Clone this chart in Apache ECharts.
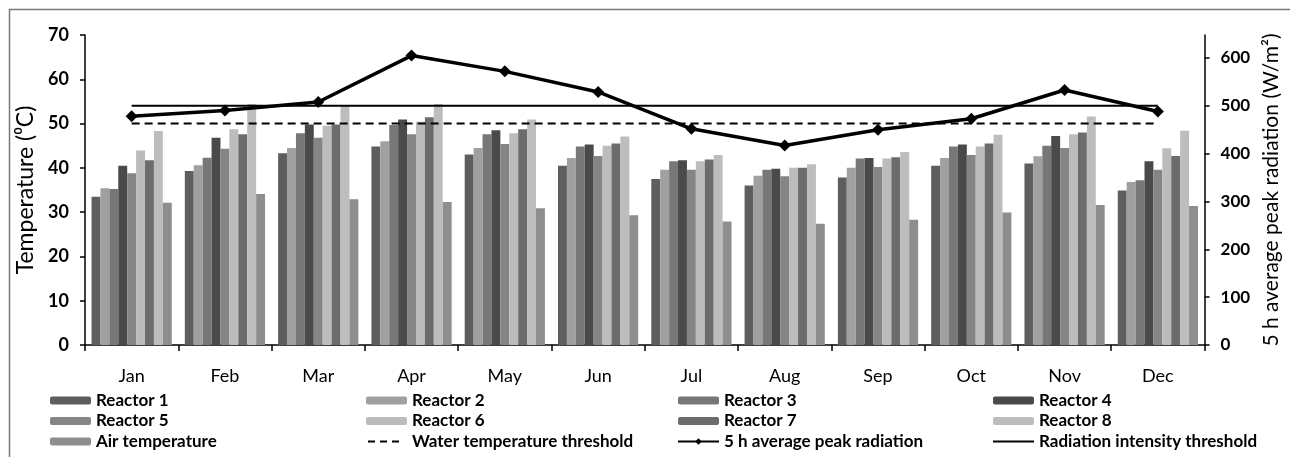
<!DOCTYPE html>
<html>
<head>
<meta charset="utf-8">
<script src="https://cdn.jsdelivr.net/npm/echarts@6/dist/echarts.min.js"></script>
<style>
  html, body { margin: 0; padding: 0; background: #fff; }
  #chart { width: 1290px; height: 457px; }
</style>
</head>
<body>
<div id="chart"></div>
<script>
var months = ['Jan', 'Feb', 'Mar', 'Apr', 'May', 'Jun', 'Jul', 'Aug', 'Sep', 'Oct', 'Nov', 'Dec'];

// temperatures (°C)
var reactor1 = [33.5, 39.3, 43.3, 44.8, 43.0, 40.5, 37.5, 36.0, 37.8, 40.5, 41.0, 34.9];
var reactor2 = [35.4, 40.6, 44.5, 46.0, 44.5, 42.2, 39.6, 38.2, 40.0, 42.2, 42.6, 36.8];
var reactor3 = [35.2, 42.3, 47.8, 49.7, 47.6, 44.8, 41.5, 39.6, 42.1, 44.8, 45.0, 37.2];
var reactor4 = [40.5, 46.8, 49.8, 50.9, 48.5, 45.3, 41.7, 39.8, 42.2, 45.3, 47.2, 41.5];
var reactor5 = [38.8, 44.3, 46.8, 47.6, 45.4, 42.7, 39.6, 38.1, 40.2, 42.9, 44.5, 39.6];
var reactor6 = [43.9, 48.7, 49.5, 50.4, 47.8, 45.0, 41.5, 40.0, 42.1, 44.8, 47.6, 44.4];
var reactor7 = [41.7, 47.6, 49.8, 51.4, 48.7, 45.5, 41.9, 40.0, 42.4, 45.5, 48.0, 42.7];
var reactor8 = [48.3, 54.4, 54.2, 54.4, 50.9, 47.1, 42.9, 40.8, 43.6, 47.5, 51.6, 48.4];
var airTemp  = [32.1, 34.1, 32.9, 32.3, 30.9, 29.3, 27.9, 27.4, 28.3, 29.9, 31.6, 31.4];

// right axis (W/m2)
var peakRadiation = [478, 490, 508, 605, 572, 529, 452, 417, 450, 473, 533, 488];
var waterThreshold = [50, 50, 50, 50, 50, 50, 50, 50, 50, 50, 50, 50];
var radiationThreshold = [500, 500, 500, 500, 500, 500, 500, 500, 500, 500, 500, 500];

var leftTicks = [0, 10, 20, 30, 40, 50, 60, 70];
var rightTicks = [0, 100, 200, 300, 400, 500, 600];

var barNames = ['Reactor 1', 'Reactor 2', 'Reactor 3', 'Reactor 4', 'Reactor 5',
                'Reactor 6', 'Reactor 7', 'Reactor 8', 'Air temperature'];
var barData = [reactor1, reactor2, reactor3, reactor4, reactor5, reactor6, reactor7, reactor8, airTemp];
var barColors = ['#5e5e5e', '#a0a0a0', '#777777', '#4a4a4a', '#858585',
                 '#bcbcbc', '#6c6c6c', '#bdbdbd', '#8e8e8e'];

var FONT = 'Lato';
// legend glyphs for the two threshold lines (box 41x8)
var SOLID_ICON = 'path://M0,0M41,8M0,3H41V5H0Z';
var DASH_ICON = 'path://M0,0M41,8M2,3H9V5H2ZM14,3H21V5H14ZM26,3H33V5H26Z';

var chartSeries = barNames.map(function (name, i) {
  return {
    name: name,
    type: 'bar',
    data: barData[i],
    itemStyle: { color: barColors[i] },
    barGap: '0%',
    barCategoryGap: '14%',
    z: 2
  };
});

chartSeries.push({
  name: 'Water temperature threshold',
  type: 'line',
  data: waterThreshold,
  yAxisIndex: 0,
  symbol: 'none',
  lineStyle: { color: '#000', width: 2, type: [8, 5] },
  itemStyle: { color: '#000' },
  z: 5
});
chartSeries.push({
  name: '5 h average peak radiation',
  type: 'line',
  data: peakRadiation,
  yAxisIndex: 1,
  symbol: 'diamond',
  symbolSize: 12,
  lineStyle: { color: '#000', width: 3.5 },
  itemStyle: { color: '#000' },
  z: 6
});
chartSeries.push({
  name: 'Radiation intensity threshold',
  type: 'line',
  data: radiationThreshold,
  yAxisIndex: 1,
  symbol: 'none',
  lineStyle: { color: '#000', width: 2 },
  itemStyle: { color: '#000' },
  z: 5
});

function legendColumn(left, names) {
  return {
    orient: 'vertical',
    left: left,
    top: 391,
    height: 70,
    padding: 0,
    itemWidth: 41,
    itemHeight: 8,
    itemGap: 1.5,
    selectedMode: false,
    data: names,
    textStyle: { fontFamily: FONT, fontWeight: 'bold', fontSize: 17, color: '#000', lineHeight: 19 }
  };
}

const myChart = echarts.init(document.getElementById('chart'));

let option = {
  animation: false,
  backgroundColor: '#fff',
  graphic: [{
    type: 'rect',
    shape: { x: 9.5, y: 9.5, width: 1400, height: 600 },
    style: { fill: 'none', stroke: '#7a7a7a', lineWidth: 1.5 },
    silent: true
  }],
  grid: { left: 85, right: 83, top: 35, bottom: 112 },
  legend: [
    legendColumn(50, ['Reactor 1', 'Reactor 5', 'Air temperature']),
    legendColumn(366, ['Reactor 2', 'Reactor 6', { name: 'Water temperature threshold', icon: DASH_ICON }]),
    legendColumn(677, ['Reactor 3', 'Reactor 7', '5 h average peak radiation']),
    legendColumn(993, ['Reactor 4', 'Reactor 8', { name: 'Radiation intensity threshold', icon: SOLID_ICON }])
  ],
  xAxis: [{
    type: 'category',
    data: months,
    boundaryGap: true,
    axisLine: { lineStyle: { color: '#000', width: 1.5 } },
    axisTick: { show: true, length: 6, inside: false, lineStyle: { color: '#000', width: 1.5 } },
    axisLabel: { fontFamily: FONT, fontSize: 18, color: '#000', margin: 22 }
  }],
  yAxis: [{
    type: 'value',
    min: 0,
    max: 70,
    interval: 10,
    name: 'Temperature (⁰C)',
    nameLocation: 'middle',
    nameRotate: 90,
    nameGap: 42,
    nameTextStyle: { fontFamily: FONT, fontSize: 23, color: '#000' },
    splitLine: { show: false },
    axisLine: { show: true, lineStyle: { color: '#000', width: 1.5 } },
    axisTick: { show: true, length: 5, customValues: leftTicks, lineStyle: { color: '#000', width: 1.5 } },
    axisLabel: { customValues: leftTicks, fontFamily: FONT, fontWeight: 'bold', fontSize: 18, color: '#000', margin: 16 }
  }, {
    type: 'value',
    min: 0,
    max: 648,
    name: '5 h average peak radiation (W/m²)',
    nameLocation: 'middle',
    nameRotate: 90,
    nameGap: 45,
    nameTextStyle: { fontFamily: FONT, fontSize: 21, color: '#000' },
    splitLine: { show: false },
    axisLine: { show: true, lineStyle: { color: '#000', width: 1.5 } },
    axisTick: { show: true, length: 5, customValues: rightTicks, lineStyle: { color: '#000', width: 1.5 } },
    axisLabel: { customValues: rightTicks, fontFamily: FONT, fontWeight: 'bold', fontSize: 17, color: '#000', margin: 16 }
  }],
  series: chartSeries
};

myChart.setOption(option);
</script>
</body>
</html>
